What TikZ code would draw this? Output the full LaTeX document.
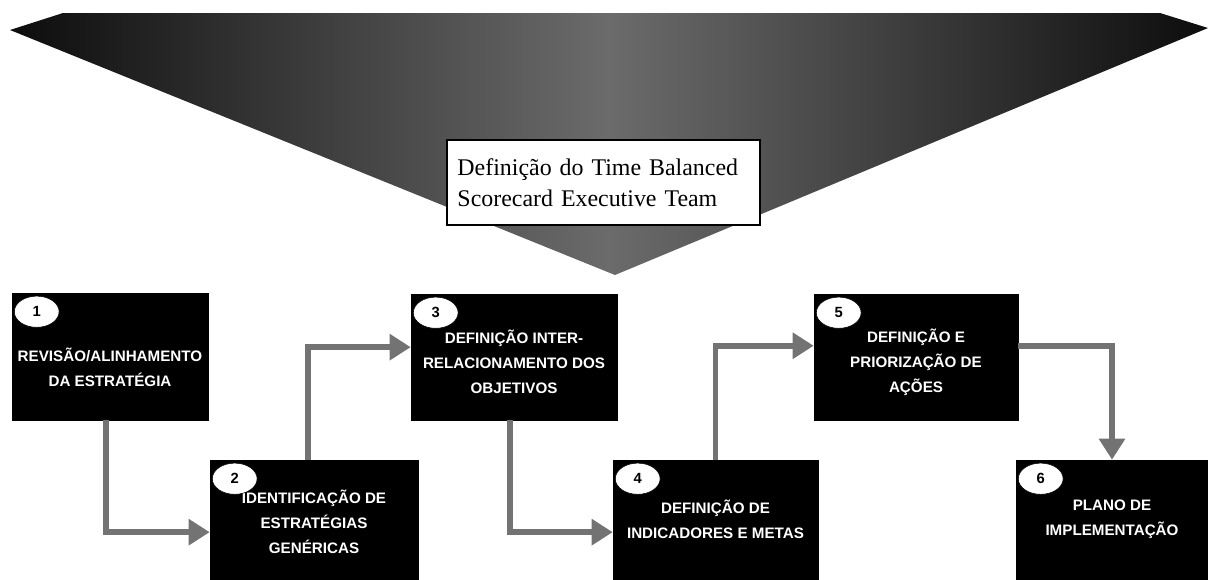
\documentclass[tikz,border=0pt]{standalone}
\usepackage{fontspec}
\setmainfont{Liberation Sans}
\newfontfamily\titlefont{Liberation Serif}
\usetikzlibrary{positioning,arrows.meta,shapes.geometric}

\begin{document}
\begin{tikzpicture}[x=0.025cm, y=-0.025cm,
  stage/.style={draw=black, fill=black, inner sep=0pt},
  caption/.style={text=white, align=center, inner sep=0pt, font=\bfseries\fontsize{10.8}{17.8}\selectfont},
  num/.style={draw=black, fill=white, ellipse, minimum width=1.12cm, minimum height=0.78cm,
    inner sep=0pt, font=\bfseries\fontsize{10.5}{10.5}\selectfont},
  flow/.style={draw=black!55, line width=4.2pt, -{Triangle[width=18pt,length=15pt]}}]
  \useasboundingbox (0,0) rectangle (1208,579);
  % wedge on top
  \shade[left color=black!95, right color=black!95, middle color=black!58]
    (63,13) -- (1160,13) -- (1208,28) -- (615,275) -- (10,30) -- cycle;
  \node[draw=black, line width=0.8pt, fill=white, minimum width=7.825cm, minimum height=2.125cm,
    text width=7.3cm, align=left, font=\titlefont\fontsize{17}{22}\selectfont] (title) at (603.5,182.5)
    {Definição do Time Balanced\\Scorecard Executive Team};
  % stages
  \node[stage, minimum width=4.9cm, minimum height=3.175cm] (b1) at (110,356.5) {};
  \node[stage, minimum width=5.2cm, minimum height=2.975cm] (b2) at (314,519.5) {};
  \node[stage, minimum width=5.15cm, minimum height=3.15cm] (b3) at (514,357) {};
  \node[stage, minimum width=5.125cm, minimum height=2.975cm] (b4) at (715.5,519.5) {};
  \node[stage, minimum width=5.1cm, minimum height=3.15cm] (b5) at (916,357) {};
  \node[stage, minimum width=4.8cm, minimum height=2.975cm] (b6) at (1112,519.5) {};
  \node[caption] (t1) at ([yshift=-7.5pt]b1.center) {REVISÃO/ALINHAMENTO\\DA ESTRATÉGIA};
  \node[caption] (t2) at ([yshift=-1.5pt]b2.center) {IDENTIFICAÇÃO DE\\ESTRATÉGIAS\\GENÉRICAS};
  \node[caption] (t3) at ([yshift=-3.5pt]b3.center) {DEFINIÇÃO INTER-\\RELACIONAMENTO DOS\\OBJETIVOS};
  \node[caption] (t4) at (b4.center) {DEFINIÇÃO DE\\INDICADORES E METAS};
  \node[caption] (t5) at ([yshift=-3.5pt]b5.center) {DEFINIÇÃO E\\PRIORIZAÇÃO DE\\AÇÕES};
  \node[caption] (t6) at (b6.center) {PLANO DE\\IMPLEMENTAÇÃO};
  \foreach \i in {1,...,6}
    \node[num] (n\i) at ([xshift=0.625cm, yshift=-0.475cm]b\i.north west) {\i};
  % connectors
  \draw[flow] ([xshift=-3pt]b1.south) |- ([yshift=-9pt]b2.west);
  \draw[flow] ([xshift=-4pt]b2.north) |- ([yshift=7pt]b3.west);
  \draw[flow] ([xshift=-3pt]b3.south) |- ([yshift=-9pt]b4.west);
  \draw[flow] (b4.north) |- ([yshift=8pt]b5.west);
  \draw[flow] ([yshift=8pt]b5.east) -| (b6.north);
\end{tikzpicture}
\end{document}
